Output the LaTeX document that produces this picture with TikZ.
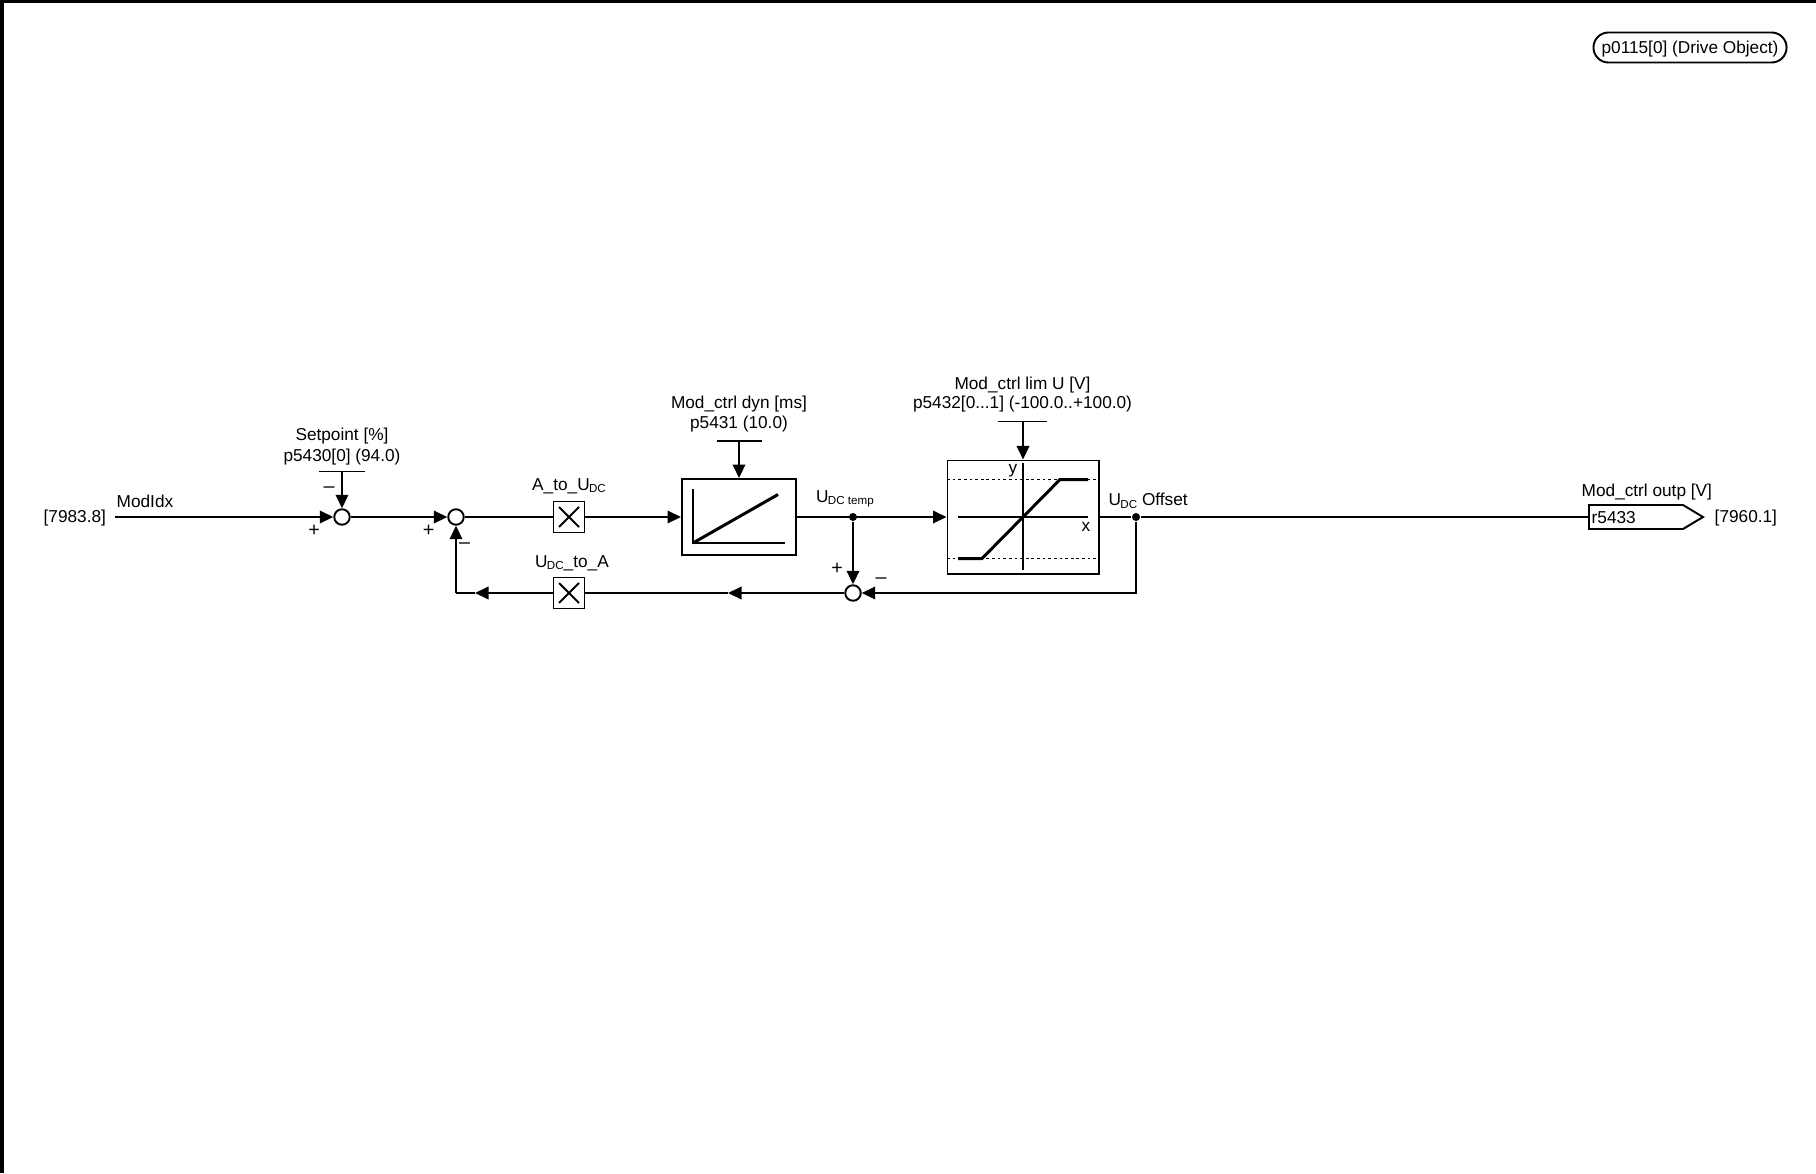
\documentclass[tikz,border=0pt]{standalone}
\usepackage{fontspec}
\setmainfont{Liberation Sans}
\usetikzlibrary{arrows.meta,positioning}

\newcommand{\subDC}{\kern-0.2pt\raisebox{-0.7pt}{\fontsize{3.3pt}{4pt}\selectfont DC}}
\tikzset{
    wire/.style={line width=0.55pt},
    flow/.style={wire,-{Triangle[length=0.135cm,width=0.125cm]}},
    sumnode/.style={draw,circle,line width=0.55pt,inner sep=0pt,minimum size=0.155cm},
    tapdot/.style={fill,circle,inner sep=0pt,minimum size=0.08cm},
    blockbox/.style={draw,line width=0.55pt,inner sep=0pt},
    lab/.style={font=\fontsize{4.9pt}{5.9pt}\selectfont,inner sep=0pt},
    sgn/.style={font=\fontsize{5.6pt}{6pt}\selectfont,inner sep=0pt},
    curve/.style={line width=0.85pt}
}

\begin{document}
\begin{tikzpicture}[x=0.01cm,y=-0.01cm]
    \useasboundingbox (0,0) rectangle (1816,1173);
    % frame
    \draw[line width=0.95pt] (2,1173) -- (2,1.7) -- (1816,1.7);
    \node[lab,draw,line width=0.55pt,rounded corners=0.15cm,minimum width=1.93cm,minimum height=0.30cm,text depth=0pt] (object) at (1690,47.5) {};
    \node[lab] (objtext) at (1690,49.5) {p0115[0] (Drive Object)};

    % signal path
    \node[lab,anchor=west] (inref) at (43,518) {[7983.8]};
    \coordinate (instart) at (115,517);
    \node[lab,anchor=west] (inname) at (116,501) {ModIdx};
    \node[sumnode] (sumA) at (342,517) {};
    \node[sumnode] (sumB) at (456,517) {};
    \node[blockbox,minimum width=0.31cm,minimum height=0.31cm] (mulA) at (569,517) {};
    \node[blockbox,minimum width=0.31cm,minimum height=0.31cm] (mulB) at (569,593) {};
    \node[blockbox,minimum width=1.14cm,minimum height=0.76cm] (dyn) at (739,517) {};
    \node[blockbox,minimum width=1.51cm,minimum height=1.13cm] (lim) at (1023,517) {};
    \node[tapdot] (tapA) at (853,517) {};
    \node[tapdot] (tapB) at (1136,517) {};
    \node[sumnode] (sumC) at (853,593) {};
    \coordinate (outin) at (1589,517);
    \coordinate (fbmid) at (728,593);
    \coordinate (fbleft) at (475,593);
    \coordinate (fbcorner) at (456,593);

    \draw[flow] (instart) -- (sumA);
    \draw[flow] (sumA) -- (sumB);
    \draw[wire] (sumB) -- (mulA);
    \draw[flow] (mulA) -- (dyn);
    \draw[flow] (dyn) -- (lim);
    \draw[wire] (lim) -- (tapB);
    \draw[wire] (tapB) -- (outin);
    \draw[flow] (tapA) -- (sumC);
    \draw[flow] (tapB) |- (sumC);
    \draw[flow] (sumC) -- (fbmid);
    \draw[wire] (fbmid) -- (mulB);
    \draw[flow] (mulB) -- (fbleft);
    \draw[wire] (fbleft) -- (fbcorner);
    \draw[flow] (fbcorner) -- (sumB);

    % parameter inputs
    \coordinate (parA) at (342,471.5);
    \coordinate (parB) at (739,441);
    \coordinate (parC) at (1023,421.5);
    \draw[wire] (319,471.5) -- (365,471.5);
    \draw[wire] (716.5,441) -- (761.5,441);
    \draw[wire] (998,421.5) -- (1047,421.5);
    \draw[flow] (parA) -- (sumA);
    \draw[flow] (parB) -- (dyn);
    \draw[flow] (parC) -- (lim);

    % multiplier crosses
    \draw[wire] (559,507) -- (579,527);
    \draw[wire] (559,527) -- (579,507);
    \draw[wire] (559,583) -- (579,603);
    \draw[wire] (559,603) -- (579,583);

    % ramp
    \draw[wire] (693,489) -- (693,543) -- (785,543);
    \draw[curve] (693,543) -- (778,494.5);

    % limiter
    \draw[wire] (1023,463) -- (1023,570);
    \draw[wire] (958,517) -- (1088,517);
    \draw[wire,dash pattern=on 0.8pt off 0.8pt] (947,479.5) -- (1098,479.5);
    \draw[wire,dash pattern=on 0.8pt off 0.8pt] (947,558.5) -- (1098,558.5);
    \draw[curve] (958,558.5) -- (982,558.5) -- (1060,479.5) -- (1088,479.5);

    % output
    \draw[line width=0.55pt] (outin) |- (1683,505) -- (1703,517) -- (1683,529) -| (outin);
    \node[lab,anchor=west] (outval) at (1591,518) {r5433};
    \node[lab,anchor=west] (outname) at (1581,492) {Mod\_ctrl outp [V]};
    \node[lab,anchor=west] (outref) at (1714,518) {[7960.1]};

    % labels
    \node[lab] (spA) at (342,436) {Setpoint [\%]};
    \node[lab] (spB) at (342,457) {p5430[0] (94.0)};
    \node[lab] (atou) at (569,486) {A\_to\_U\subDC};
    \node[lab] (utoa) at (572,563) {U\subDC\_to\_A};
    \node[lab] (dynA) at (739,404) {Mod\_ctrl dyn [ms]};
    \node[lab] (dynB) at (739,424) {p5431 (10.0)};
    \node[lab] (limA) at (1022.5,385) {Mod\_ctrl lim U [V]};
    \node[lab] (limB) at (1022.5,404.5) {p5432[0...1] ({-}100.0..+100.0)};
    \node[lab,anchor=west] (utemp) at (815.5,499) {U\kern-0.2pt\raisebox{-0.7pt}{\fontsize{3.3pt}{4pt}\selectfont DC temp}};
    \node[lab,anchor=west] (uoff) at (1108,501) {U\subDC{} Offset};
    \node[lab] (ylab) at (1013,471) {y};
    \node[lab] (xlab) at (1086,527) {x};

    % signs
    \node[sgn] (minA) at (329,490) {--};
    \node[sgn] (plusA) at (314,531) {+};
    \node[sgn] (plusB) at (428.5,531) {+};
    \node[sgn] (minB) at (464.5,546) {--};
    \node[sgn] (plusC) at (837,569) {+};
    \node[sgn] (minC) at (881,580.5) {--};
\end{tikzpicture}
\end{document}
